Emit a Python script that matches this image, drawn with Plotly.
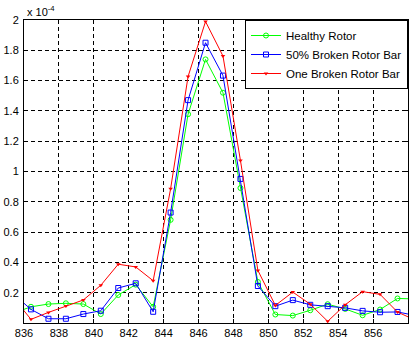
import plotly.graph_objects as go

SCALE = 1e-4

freq = [835.4, 836.4, 837.4, 838.4, 839.4, 840.4, 841.4, 842.4, 843.4, 844.4,
        845.4, 846.4, 847.4, 848.4, 849.4, 850.4, 851.4, 852.4, 853.4, 854.4,
        855.4, 856.4, 857.4, 858.4]

healthy = [0.065, 0.107, 0.125, 0.13, 0.125, 0.059, 0.185, 0.253, 0.107, 0.681,
           1.378, 1.74, 1.52, 0.891, 0.271, 0.056, 0.049, 0.084, 0.124, 0.093,
           0.051, 0.089, 0.162, 0.159]
broken50 = [0.19, 0.09, 0.028, 0.028, 0.059, 0.081, 0.231, 0.262, 0.074, 0.729,
            1.471, 1.85, 1.633, 0.951, 0.244, 0.111, 0.151, 0.12, 0.111, 0.1,
            0.08, 0.071, 0.073, 0.05]
onebar = [0.166, 0.024, 0.07, 0.112, 0.152, 0.249, 0.388, 0.37, 0.279, 0.886,
          1.627, 1.99, 1.762, 1.073, 0.347, 0.116, 0.204, 0.124, 0.011, 0.12,
          0.207, 0.189, 0.072, 0.02]

names = ["Healthy Rotor", "50% Broken Rotor Bar", "One Broken Rotor Bar"]

xticks = [836, 838, 840, 842, 844, 846, 848, 850, 852, 854, 856]
yticks = [0.2, 0.4, 0.6, 0.8, 1, 1.2, 1.4, 1.6, 1.8, 2]
yticktext = ["0.2", "0.4", "0.6", "0.8", "1", "1.2", "1.4", "1.6", "1.8", "2"]

FONT = "Liberation Sans, Arial, sans-serif"

fig = go.Figure()
styles = [
    (healthy, "#00ff00", dict(symbol="circle-open", size=5, line=dict(width=1))),
    (broken50, "#0000ff", dict(symbol="square-open", size=5, line=dict(width=1))),
    (onebar, "#ff0000", dict(symbol="triangle-down", size=4)),
]
for (vals, col, mk), nm in zip(styles, names):
    fig.add_trace(go.Scatter(
        x=freq, y=[v * SCALE for v in vals], name=nm, mode="lines+markers",
        line=dict(color=col, width=1), marker=dict(color=col, **mk),
        cliponaxis=True,
    ))

fig.update_layout(
    width=412, height=338,
    margin=dict(l=24, r=4, t=20, b=15),
    paper_bgcolor="white", plot_bgcolor="white",
    font=dict(family=FONT, size=11, color="black"),
    showlegend=True,
    legend=dict(
        x=1, y=1, xanchor="right", yanchor="top",
        bgcolor="white", bordercolor="black", borderwidth=1,
        font=dict(size=11.5, family=FONT), tracegroupgap=0,
        itemwidth=30,
    ),
    xaxis=dict(
        range=[836, 858], tickvals=xticks, ticks="inside", ticklen=4,
        tickcolor="black", showline=True, linecolor="black", linewidth=1,
        mirror="ticks", showgrid=True, gridcolor="black", gridwidth=1,
        griddash="4px,3px", zeroline=False, automargin=False,
        tickfont=dict(size=11),
    ),
    yaxis=dict(
        range=[0, 2 * SCALE], tickvals=[t * SCALE for t in yticks],
        ticktext=yticktext, ticks="inside", ticklen=4, tickcolor="black",
        showline=True, linecolor="black", linewidth=1, mirror="ticks",
        showgrid=True, gridcolor="black", gridwidth=1, griddash="4px,3px",
        zeroline=False, automargin=False, tickfont=dict(size=11),
        ticklabelstandoff=2,
    ),
    annotations=[dict(
        text="x 10<sup>-4</sup>", xref="paper", yref="paper", x=0, y=1,
        xanchor="left", yanchor="bottom", showarrow=False,
        font=dict(size=11, family=FONT), xshift=1, yshift=0,
    )],
)

fig.write_html("out.html")
